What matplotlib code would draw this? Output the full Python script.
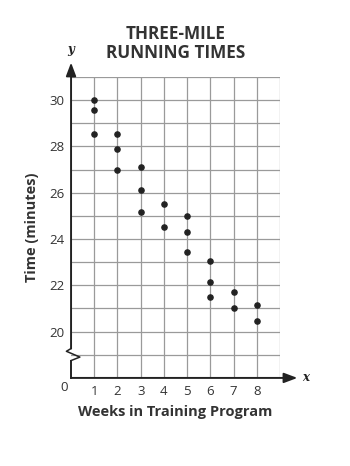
import matplotlib
matplotlib.use("Agg")
import matplotlib.pyplot as plt
from matplotlib.lines import Line2D

plt.rcParams['font.family'] = ['Open Sans', 'DejaVu Sans']

weeks = [1, 1, 1, 2, 2, 2, 3, 3, 3, 4, 4, 5, 5, 5, 6, 6, 6, 7, 7, 8, 8]
times = [30, 29.55, 28.55, 28.55, 27.9, 27.0, 27.1, 26.1, 25.15, 25.5, 24.5,
         25.0, 24.3, 23.45, 23.05, 22.15, 21.5, 21.7, 21.0, 21.15, 20.45]
x_ticks = [1, 2, 3, 4, 5, 6, 7, 8]
y_ticks = [20, 22, 24, 26, 28, 30]
title = "THREE-MILE\nRUNNING TIMES"
xlabel = "Weeks in Training Program"
ylabel = "Time (minutes)"

fig = plt.figure(figsize=(3.5, 4.66), dpi=100)
ax = fig.add_axes([0.203, 0.189, 0.597, 0.646])
ax.set_xlim(0, 9)
ax.set_ylim(18, 31)

grid_c = '#9a9a9a'
for gx in range(1, 10):
    ax.axvline(gx, color=grid_c, lw=0.9, zorder=1)
for gy in range(19, 32):
    ax.axhline(gy, color=grid_c, lw=0.9, zorder=1)

for s in ax.spines.values():
    s.set_visible(False)

axis_c = '#222222'
# bottom axis line with arrow
ax.annotate('', xy=(9.75, 18), xytext=(0, 18), annotation_clip=False,
            arrowprops=dict(arrowstyle='-|>,head_length=0.8,head_width=0.3',
                            color=axis_c, lw=1.4, shrinkA=0, shrinkB=0))
# left axis with zigzag break
ax.add_line(Line2D([0, 0], [18, 18.75], color=axis_c, lw=1.4, clip_on=False, zorder=3))
ax.add_line(Line2D([0, 0.38, -0.2, 0], [18.75, 18.9, 19.15, 19.27],
                   color=axis_c, lw=1.1, clip_on=False, zorder=3))
ax.annotate('', xy=(0, 31.62), xytext=(0, 19.27), annotation_clip=False,
            arrowprops=dict(arrowstyle='-|>,head_length=0.8,head_width=0.3',
                            color=axis_c, lw=1.4, shrinkA=0, shrinkB=0))

ax.scatter(weeks, times, s=14, color='#222222', zorder=5, clip_on=False)

ax.set_xticks(x_ticks)
ax.set_yticks(y_ticks)
ax.tick_params(length=0, labelsize=9.5, colors='#333333', pad=5)
ax.tick_params(axis='x', pad=5)
ax.text(-0.3, 17.6, '0', ha='center', va='center', fontsize=9.5, color='#333333')

ax.text(9.95, 18.0, 'x', fontsize=8.5, fontstyle='italic', fontweight='bold',
        family='DejaVu Serif', ha='left', va='center', color='#222222')
ax.text(0.0, 32.2, 'y', fontsize=8.5, fontstyle='italic', fontweight='bold',
        family='DejaVu Serif', ha='center', va='center', color='#222222')

ax.set_xlabel(xlabel, fontsize=10.5, fontweight='bold', color='#333333', labelpad=5)
ax.set_ylabel(ylabel, fontsize=10.5, fontweight='bold', color='#333333', labelpad=7)
fig.text(0.503, 0.906, title, ha='center', va='center', fontsize=12.3,
         fontweight='bold', color='#333333', linespacing=1.05)

fig.savefig('out.png', dpi=100)
